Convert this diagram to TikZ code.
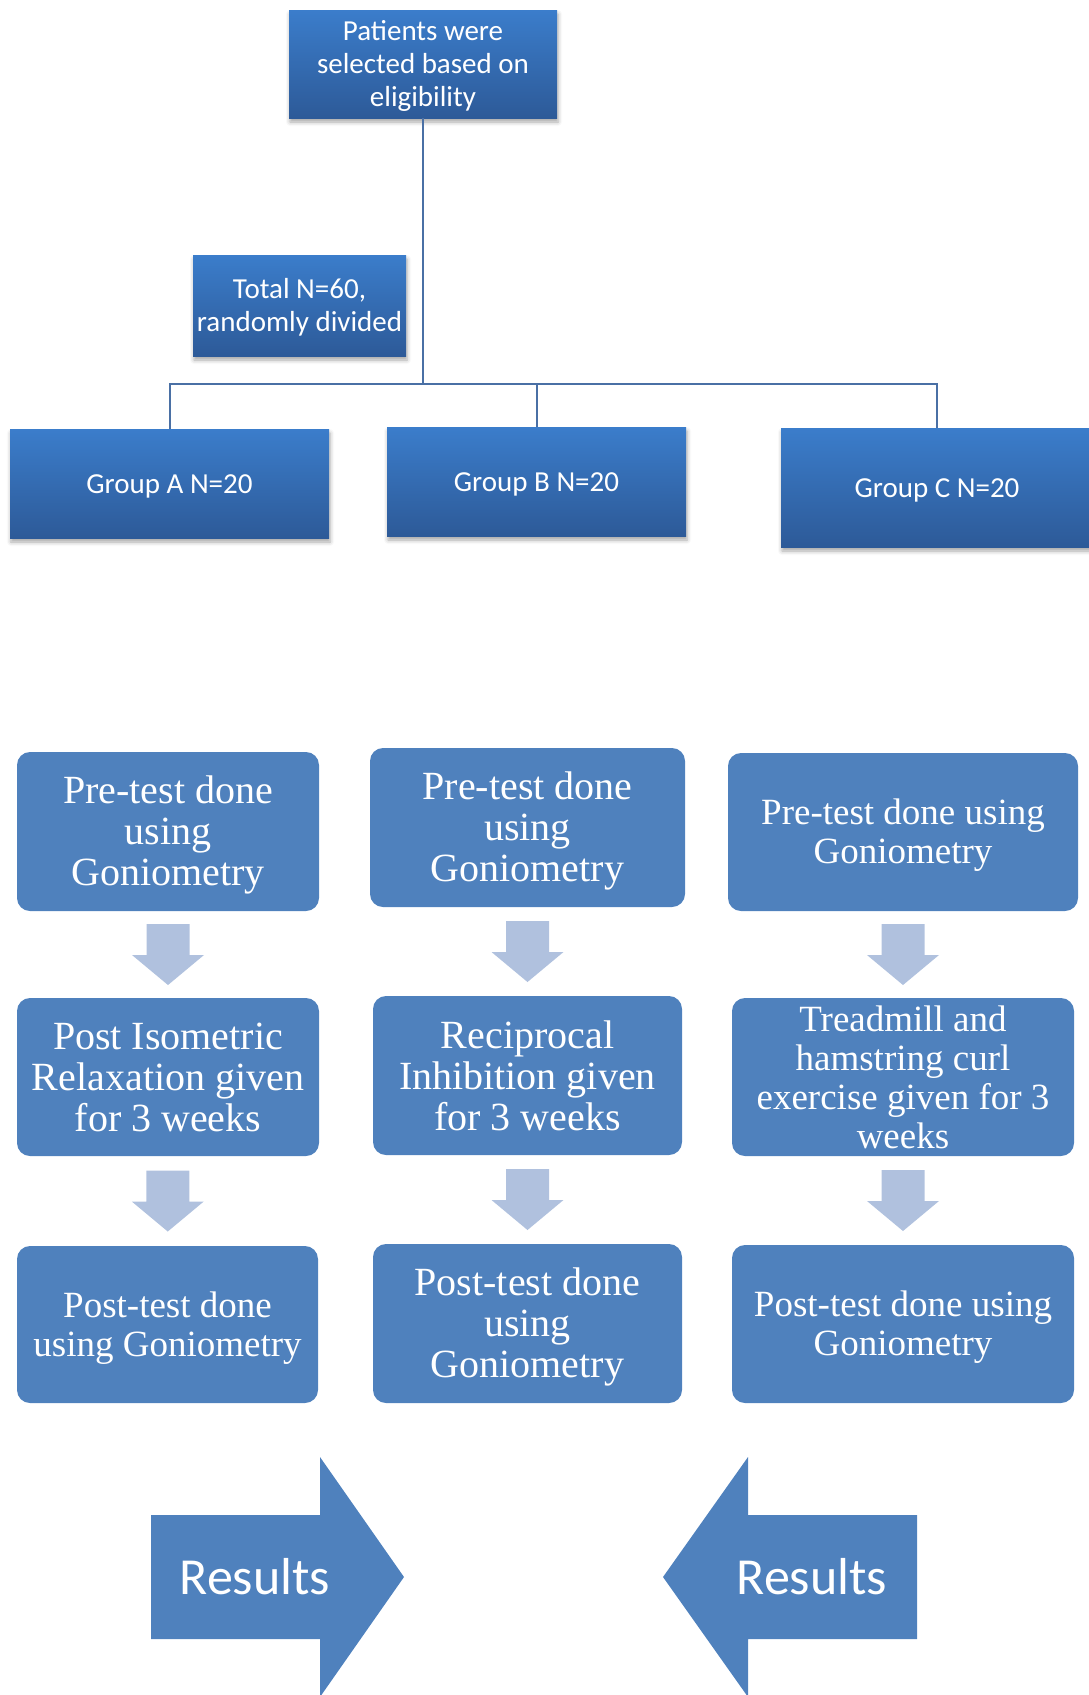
\documentclass[tikz,border=0pt]{standalone}
\usepackage{fontspec}
\setmainfont{Liberation Serif}
\newfontfamily\calibri{Carlito}
\usetikzlibrary{shadows,shadows.blur,calc}
\definecolor{boxblue}{RGB}{79,129,189}
\definecolor{gradtop}{RGB}{59,125,203}
\definecolor{gradbot}{RGB}{45,90,152}
\definecolor{linecol}{RGB}{74,112,165}
\definecolor{arrfill}{RGB}{176,193,222}
\tikzset{
  downarr/.pic={\fill[arrfill] (-21.5,-30.5) -- (21.5,-30.5) -- (21.5,0.5) -- (36,0.5) -- (0,30.5) -- (-36,0.5) -- (-21.5,0.5) -- cycle;},
}
\begin{document}
\begin{tikzpicture}[x=1pt,y=-1pt,
  gradbox/.style={rectangle, top color=gradtop, bottom color=gradbot, text=white,
    font=\calibri\fontsize{29}{33}\selectfont, align=center, inner sep=0pt,
    blur shadow={shadow xshift=1pt, shadow yshift=-4pt, shadow blur radius=4pt, shadow opacity=35}},
  topfix/.style={execute at begin node={\rule{0pt}{#1}}},
  flowbox/.style={rectangle, rounded corners=13pt, fill=boxblue, text=white, align=center, inner sep=0pt},
  bigtxt/.style={font=\fontsize{40}{41}\selectfont},
  smalltxt/.style={font=\fontsize{37}{39}\selectfont},
  conn/.style={draw=linecol, line width=2pt},
  restxt/.style={text=white, font=\calibri\fontsize{52}{60}\selectfont, inner sep=0pt, anchor=base},
]
\useasboundingbox (0,0) rectangle (1088,1695);

% top section
\node[gradbox, topfix=90pt, minimum width=268pt, minimum height=108pt] (top) at (423,64) {Patients were\\selected based on\\eligibility};
\node[gradbox, topfix=57pt, minimum width=213pt, minimum height=101pt] (total) at (299.5,305.5) {Total N=60,\\randomly divided};
\node[gradbox, topfix=24pt, minimum width=319pt, minimum height=109pt] (gA) at (169.5,483.5) {Group A N=20};
\node[gradbox, topfix=24pt, minimum width=299pt, minimum height=109pt] (gB) at (536.5,481.5) {Group B N=20};
\node[gradbox, topfix=24pt, minimum width=312pt, minimum height=119pt] (gC) at (937,487.5) {Group C N=20};

\coordinate (split) at (423,384);
\draw[conn] (top.south) -- (split);
\draw[conn] (split) -| (gA.north);
\draw[conn] (split) -| (gB.north);
\draw[conn] (split) -| (gC.north);

% column A
\node[flowbox, bigtxt, topfix=116pt, minimum width=302pt, minimum height=159pt] (a1) at (168,831.5) {Pre-test done\\using\\Goniometry};
\node[flowbox, bigtxt, minimum width=302pt, minimum height=158pt] (a2) at (168,1077) {Post Isometric\\Relaxation given\\for 3 weeks};
\node[flowbox, smalltxt, topfix=71pt, minimum width=301pt, minimum height=157pt] (a3) at (167.5,1324.5) {Post-test done\\using Goniometry};
% column B
\node[flowbox, bigtxt, topfix=116pt, minimum width=315pt, minimum height=159pt] (b1) at (527.5,827.5) {Pre-test done\\using\\Goniometry};
\node[flowbox, bigtxt, minimum width=309pt, minimum height=159pt] (b2) at (527.5,1075.5) {Reciprocal\\Inhibition given\\for 3 weeks};
\node[flowbox, bigtxt, topfix=116pt, minimum width=309pt, minimum height=159pt] (b3) at (527.5,1323.5) {Post-test done\\using\\Goniometry};
% column C
\node[flowbox, smalltxt, topfix=71pt, minimum width=350pt, minimum height=158pt] (c1) at (903,832) {Pre-test done using\\Goniometry};
\node[flowbox, smalltxt, minimum width=342pt, minimum height=158pt] (c2) at (903,1077) {Treadmill and\\hamstring curl\\exercise given for 3\\weeks};
\node[flowbox, smalltxt, topfix=71pt, minimum width=342pt, minimum height=158pt] (c3) at (903,1324) {Post-test done using\\Goniometry};

\foreach \u/\v in {a1/a2,a2/a3,b1/b2,b2/b3,c1/c2,c2/c3}
  \pic at ($(\u.south)!0.5!(\v.north)$) {downarr};

% results arrows
\fill[boxblue] (151,1515) -- (320,1515) -- (320,1457) -- (404,1577) -- (320,1697) -- (320,1639) -- (151,1639) -- cycle;
\node[restxt] (res1) at (255,1594) {Results};
\fill[boxblue] (917,1515) -- (748,1515) -- (748,1457) -- (663,1577) -- (748,1697) -- (748,1639) -- (917,1639) -- cycle;
\node[restxt] (res2) at (812,1594) {Results};
\end{tikzpicture}
\end{document}
